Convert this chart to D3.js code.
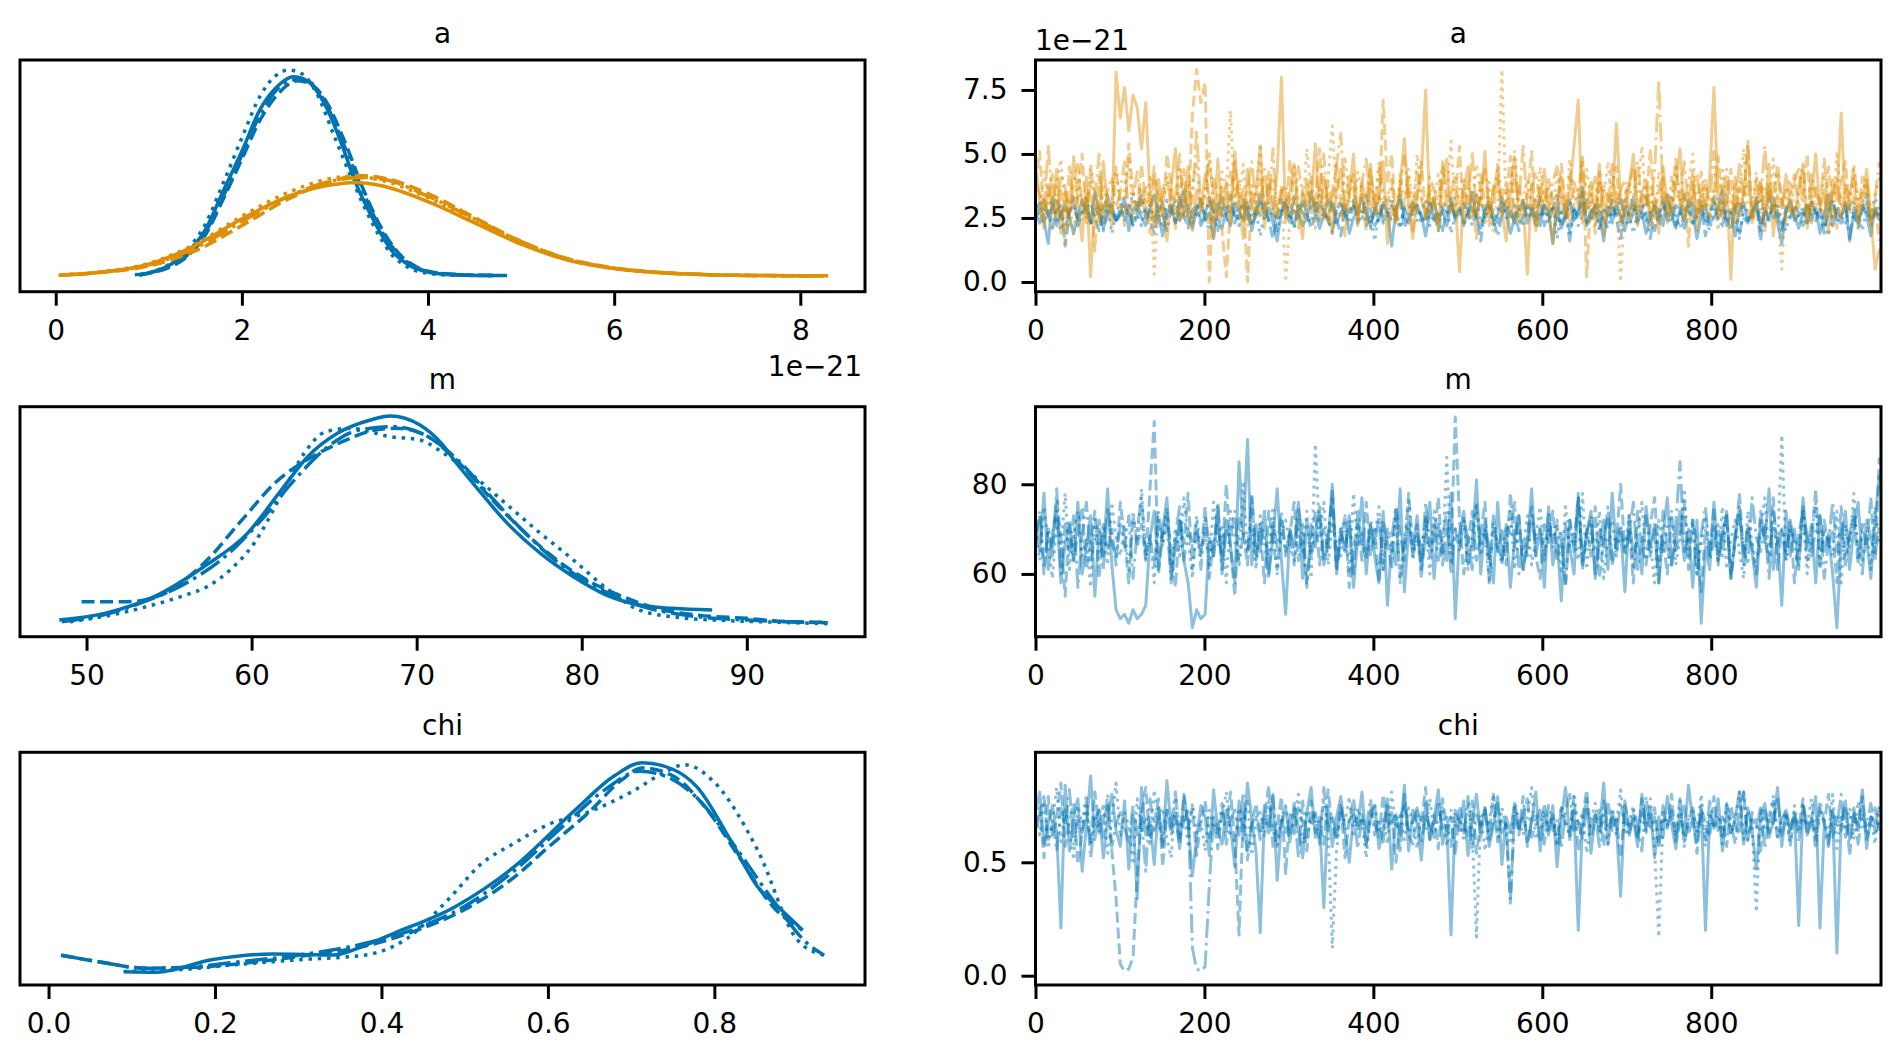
<!DOCTYPE html>
<html>
<head>
<meta charset="utf-8">
<script src="https://cdn.jsdelivr.net/npm/d3@7/dist/d3.min.js"></script>
<style>
body { margin: 0; background: #fff; }
svg text { font-family: "DejaVu Sans", sans-serif; font-size: 28px; fill: #000; }
</style>
</head>
<body>
<svg id="chart" width="1900" height="1058"></svg>
<script>
// ---- posterior densities (x in data units, y = density) ----
var kdeA0X = [[0.85,1.0,1.2,1.4,1.6,1.8,2.0,2.2,2.4,2.55,2.7,2.9,3.1,3.2,3.4,3.6,3.8,4.0,4.2,4.4,4.7],
              [0.9,1.0,1.2,1.4,1.6,1.8,2.0,2.2,2.4,2.6,2.75,2.9,3.1,3.3,3.5,3.7,3.9,4.1,4.4,4.85],
              [0.9,1.0,1.2,1.4,1.6,1.8,2.0,2.2,2.35,2.5,2.65,2.8,3.0,3.2,3.4,3.6,3.8,4.0,4.3,4.75],
              [0.9,1.0,1.2,1.4,1.6,1.8,2.0,2.2,2.4,2.6,2.75,2.9,3.1,3.3,3.5,3.7,3.9,4.1,4.4,4.8]];
var kdeA0Y = [[0.005,0.012,0.037,0.085,0.17,0.32,0.47,0.63,0.72,0.75,0.735,0.64,0.47,0.37,0.22,0.10,0.04,0.015,0.006,0.003,0.002],
              [0.004,0.01,0.03,0.07,0.15,0.29,0.44,0.59,0.69,0.735,0.72,0.66,0.51,0.33,0.18,0.08,0.03,0.012,0.004,0.002],
              [0.004,0.012,0.04,0.095,0.19,0.35,0.52,0.68,0.75,0.775,0.76,0.69,0.52,0.35,0.20,0.085,0.03,0.01,0.003,0.002],
              [0.005,0.011,0.033,0.075,0.16,0.30,0.455,0.61,0.71,0.74,0.725,0.65,0.49,0.32,0.17,0.075,0.028,0.01,0.004,0.002]];
var kdeA1X = [[0.03,0.5,1.0,1.5,2.0,2.5,3.0,3.2,3.5,4.0,4.5,5.0,5.5,6.0,6.5,7.0,7.5,8.2],
              [0.05,0.5,1.0,1.5,2.0,2.5,3.0,3.25,3.5,4.0,4.5,5.0,5.5,6.0,6.5,7.0,7.5,8.25],
              [0.05,0.5,1.0,1.5,2.0,2.5,3.0,3.15,3.5,4.0,4.5,5.0,5.5,6.0,6.5,7.0,7.5,8.2],
              [0.1,0.5,1.0,1.5,2.0,2.5,3.0,3.25,3.5,4.0,4.5,5.0,5.5,6.0,6.5,7.0,7.5,8.3]];
var kdeA1Y = [[0.003,0.015,0.045,0.115,0.215,0.30,0.345,0.352,0.34,0.28,0.20,0.12,0.06,0.028,0.012,0.005,0.002,0.0],
              [0.004,0.014,0.038,0.095,0.19,0.29,0.36,0.378,0.37,0.31,0.22,0.13,0.065,0.03,0.013,0.005,0.002,0.0],
              [0.004,0.016,0.048,0.12,0.225,0.315,0.37,0.375,0.36,0.295,0.21,0.125,0.062,0.028,0.012,0.005,0.002,0.001],
              [0.004,0.015,0.042,0.105,0.205,0.30,0.36,0.37,0.365,0.30,0.215,0.13,0.064,0.03,0.013,0.005,0.002,0.001]];
var kdeMX = [[48.35,51.1,54.1,57.1,59.75,61.8,63.4,65.2,67.2,68.4,70.2,71.5,72.5,73.5,75.5,77.5,79.5,81.5,83.5,85.5,87.9],
             [49.7,52.5,54.5,57.0,59.5,61.5,63.5,65.5,67.5,68.8,70.5,72.5,74.5,76.5,78.5,80.5,82.5,84.5,87,90,92.5,94.9],
             [49.0,51.5,54.0,56.0,57.3,58.8,60.15,61.7,63.2,64.5,66.0,68.4,70.2,71.5,73.5,75.5,77.5,79.5,81.5,83.5,86,89,92,94.9],
             [48.5,51.0,53.5,56.0,58.5,60.5,62.5,64.5,66.5,68.6,70.5,72.5,74.5,76.5,78.5,80.5,82.5,84.5,87,90,92.5,94.9]];
var kdeMY = [[0.0015,0.0035,0.0085,0.0175,0.0275,0.0405,0.0505,0.0575,0.0615,0.0627,0.060,0.0545,0.048,0.042,0.0305,0.0215,0.0145,0.009,0.006,0.005,0.0045],
             [0.007,0.007,0.009,0.018,0.032,0.043,0.050,0.055,0.0585,0.059,0.057,0.049,0.038,0.028,0.0195,0.013,0.0085,0.005,0.003,0.002,0.001,0.0008],
             [0.001,0.003,0.006,0.009,0.0115,0.017,0.0245,0.038,0.0516,0.058,0.059,0.0565,0.0555,0.052,0.0445,0.036,0.0275,0.0195,0.011,0.0045,0.0022,0.0013,0.0008,0.0004],
             [0.001,0.003,0.007,0.0125,0.021,0.031,0.043,0.053,0.0585,0.0595,0.057,0.0495,0.0385,0.028,0.019,0.0125,0.0075,0.0045,0.0025,0.0015,0.001,0.0007]];
var kdeChiX = [[0.091,0.13,0.196,0.269,0.342,0.38,0.415,0.488,0.56,0.633,0.68,0.713,0.75,0.779,0.82,0.852,0.88,0.906],
               [0.015,0.06,0.117,0.17,0.23,0.30,0.37,0.44,0.5,0.56,0.6,0.65,0.69,0.713,0.75,0.79,0.83,0.87,0.906],
               [0.09,0.15,0.22,0.3,0.379,0.43,0.48,0.52,0.56,0.6,0.65,0.7,0.74,0.764,0.8,0.852,0.9,0.932],
               [0.015,0.06,0.117,0.17,0.23,0.30,0.37,0.44,0.5,0.56,0.62,0.67,0.71,0.74,0.78,0.82,0.87,0.91,0.932]];
var kdeChiY = [[0.097,0.09,0.28,0.368,0.353,0.5,0.685,1.09,1.71,2.58,3.1,3.30,3.2,2.93,2.1,1.40,1.05,0.736],
               [0.35,0.25,0.15,0.16,0.22,0.33,0.46,0.72,1.05,1.55,2.0,2.55,3.05,3.22,3.1,2.6,1.85,1.1,0.73],
               [0.1,0.12,0.2,0.28,0.35,0.6,1.2,1.75,2.07,2.35,2.55,2.85,3.15,3.27,3.0,1.96,0.58,0.35],
               [0.35,0.25,0.15,0.17,0.25,0.35,0.5,0.75,1.1,1.65,2.35,2.9,3.17,3.1,2.75,2.1,1.2,0.55,0.35]];

// ---- chains, thinned draws (200 of 1000 iterations per chain) ----
var traceA0 = [
 [2.8,3.1,2.4,1.5,3.3,2.2,2.7,3.0,2.5,1.9,2.6,3.2,2.8,2.3,3.5,2.9,2.1,2.6,3.0,2.4,
  2.7,3.3,2.0,2.8,3.1,2.5,2.2,2.9,3.4,2.6,1.8,2.7,3.0,2.3,2.9,3.6,2.5,2.1,2.8,3.2,
  2.4,2.7,1.7,2.9,3.3,2.6,2.2,3.0,2.8,2.4,3.1,2.0,2.7,3.4,2.5,2.9,2.3,1.6,2.8,3.1,
  2.6,2.2,3.0,2.7,2.4,3.5,2.8,2.1,2.6,3.2,2.9,2.3,2.7,3.0,1.9,2.5,2.8,3.3,2.6,2.2,
  2.9,2.4,3.1,2.7,1.4,2.8,3.4,2.5,2.3,2.9,3.0,2.6,1.8,2.7,3.2,2.4,2.8,2.2,3.1,2.6,
  2.9,2.3,2.7,3.5,2.5,2.1,2.8,3.0,2.4,2.6,3.3,2.7,1.9,2.5,2.9,3.1,2.3,2.8,2.6,2.2,
  3.0,2.7,1.5,2.9,2.1,2.6,3.2,2.4,2.8,3.7,2.2,2.5,3.0,2.7,1.6,2.9,2.3,3.1,2.6,2.0,
  2.8,3.3,2.4,2.7,1.9,2.5,3.0,2.8,2.2,3.4,2.6,2.1,2.9,2.4,3.2,2.7,1.7,2.6,3.0,2.3,
  2.5,2.9,3.6,2.2,2.7,1.8,2.8,3.1,2.4,2.6,3.3,2.0,2.9,2.5,3.0,2.3,1.5,2.8,3.2,2.6,
  2.1,2.7,3.0,2.4,2.9,1.9,2.6,3.4,2.2,2.8,2.5,3.1,1.6,2.7,2.3,3.0,2.6,1.8,2.9,2.4],
 [2.5,2.9,3.2,2.6,2.1,2.8,3.0,1.4,2.7,3.3,2.2,2.6,2.9,3.1,2.5,2.0,2.8,3.4,2.7,2.3,
  2.9,2.5,3.0,2.2,2.6,3.2,2.8,2.4,1.9,2.7,3.1,2.5,2.9,2.3,3.3,2.6,2.1,2.8,3.0,2.4,
  2.7,3.2,2.5,2.0,2.9,2.6,3.4,2.3,2.8,3.0,2.5,2.2,2.7,3.1,2.9,2.4,1.7,2.6,3.2,2.8,
  2.3,2.9,2.5,3.3,2.7,2.1,2.6,3.0,2.8,2.4,3.2,2.5,1.8,2.9,2.7,3.1,2.3,2.6,3.4,2.8,
  2.2,2.5,3.0,2.7,2.4,2.9,3.2,2.1,2.6,2.8,3.0,2.5,2.3,3.1,2.7,2.0,2.9,2.6,3.3,2.4,
  2.8,2.2,2.7,3.0,2.5,1.6,2.8,3.2,2.6,2.3,2.9,3.1,2.4,2.7,2.0,2.6,3.0,2.8,2.5,3.3,
  2.2,2.7,2.9,2.4,2.6,3.1,1.9,2.8,2.5,3.5,2.3,2.7,3.0,2.1,2.8,2.6,3.2,2.4,1.7,2.9,
  2.6,3.0,2.3,2.8,3.3,2.5,2.0,2.7,3.1,2.4,2.9,2.2,2.6,3.4,2.8,2.3,2.5,3.0,1.8,2.7,
  3.1,2.4,2.8,2.6,2.0,2.9,3.2,2.5,2.3,2.7,3.0,1.6,2.8,2.4,3.3,2.6,2.1,2.9,2.5,3.0,
  2.7,2.2,3.1,2.6,2.4,2.9,1.9,2.8,3.2,2.5,2.3,2.7,3.0,2.6,2.1,2.8,3.4,2.4,2.7,2.5],
 [3.0,2.6,2.3,2.8,3.2,2.5,2.0,2.9,2.7,3.1,2.4,2.8,3.3,2.2,2.6,3.0,2.5,2.9,1.9,2.7,
  3.1,2.4,2.8,3.5,2.6,2.2,2.9,3.0,2.5,2.7,2.1,3.2,2.8,2.4,2.6,3.0,2.9,2.3,2.7,3.3,
  2.5,2.0,2.8,3.1,2.6,2.4,2.9,3.2,2.2,2.7,3.0,2.5,2.8,1.8,2.6,3.1,2.9,2.4,2.7,3.3,
  2.5,2.1,2.8,3.0,2.6,2.3,2.9,3.4,2.7,2.4,2.0,2.8,3.1,2.5,2.7,3.2,2.4,2.9,2.2,2.6,
  1.6,2.8,2.3,2.7,3.3,2.5,2.1,2.9,3.0,2.6,2.4,2.8,3.2,2.2,2.7,2.5,3.1,2.9,1.9,2.6,
  2.8,3.0,2.4,2.7,3.4,2.3,2.6,2.9,2.1,2.8,3.1,2.5,2.7,3.0,2.4,2.2,2.9,2.6,3.2,2.5,
  2.8,2.3,3.0,1.7,2.7,2.5,3.1,2.8,2.2,2.6,3.3,2.4,2.9,2.0,2.7,3.0,2.5,2.8,2.3,3.2,
  2.6,1.9,2.8,3.1,2.4,2.7,3.0,2.2,2.9,2.5,3.4,2.6,2.1,2.8,3.0,2.3,2.7,3.2,2.5,2.0,
  2.9,2.6,3.1,2.3,2.8,2.5,1.7,3.0,2.7,2.4,2.9,3.3,2.2,2.6,2.8,3.1,2.4,2.0,2.7,3.0,
  2.5,2.8,2.2,3.2,2.6,2.9,2.4,1.8,2.7,3.0,2.5,2.3,2.9,3.1,2.6,2.0,2.8,2.4,3.3,2.7],
 [2.7,2.3,3.0,2.6,2.9,3.3,2.4,2.1,2.8,3.0,2.5,2.7,3.2,2.3,2.9,2.6,2.0,3.1,2.8,2.4,
  2.6,3.0,2.7,2.2,2.9,3.4,2.5,2.8,2.3,3.1,2.6,2.0,2.8,3.2,2.4,2.7,3.0,2.5,2.9,2.2,
  2.6,3.3,2.8,2.4,2.1,2.9,3.0,2.6,2.5,3.2,2.7,2.3,2.9,2.6,3.1,2.4,2.8,2.0,2.7,3.0,
  2.5,3.3,2.8,2.2,2.6,2.9,3.1,2.4,2.7,2.5,1.9,2.8,3.2,2.6,2.3,3.0,2.7,2.5,2.9,2.1,
  2.8,3.3,2.4,2.6,3.0,2.7,2.2,2.9,2.5,3.1,2.8,2.3,2.6,3.2,2.4,2.7,2.0,2.9,3.0,2.5,
  2.6,3.1,2.8,2.2,2.7,3.3,2.5,2.9,2.4,1.8,2.6,3.0,2.8,2.3,2.7,3.2,2.5,2.9,2.1,2.6,
  3.0,2.4,2.8,3.5,2.2,2.7,1.6,2.9,2.5,3.1,2.3,2.8,2.6,3.0,2.4,2.1,2.9,2.7,3.3,2.5,
  2.2,2.8,3.0,2.5,2.7,1.7,2.9,2.4,3.2,2.6,2.3,3.0,2.8,2.1,2.6,3.1,2.5,2.9,2.4,2.7,
  3.3,2.5,2.2,2.9,2.6,3.0,1.9,2.7,2.4,2.8,3.1,2.3,2.6,3.4,2.5,2.8,2.0,2.7,3.0,2.4,
  2.6,2.9,2.3,3.1,2.7,2.5,2.1,2.8,3.2,2.4,2.6,3.0,1.7,2.9,2.5,2.7,3.1,2.2,2.8,2.6]
];
var traceA1 = [
 [4.6,3.2,2.1,3.8,2.7,4.4,1.9,3.5,2.6,4.9,3.0,1.6,4.1,0.2,3.3,2.5,4.7,3.0,2.2,8.2,
  6.4,7.6,5.9,7.3,6.8,5.2,7.0,3.4,2.2,4.0,2.9,1.6,3.7,5.2,2.4,3.1,4.5,2.0,3.6,2.8,
  4.2,3.3,1.8,4.8,2.6,3.9,2.3,5.1,3.0,1.7,4.4,2.8,3.5,5.3,2.1,3.8,2.6,4.3,8.0,2.3,
  3.5,4.6,2.7,1.7,3.8,3.0,5.4,2.5,4.1,3.2,1.9,3.6,4.4,2.8,3.3,5.0,2.2,3.9,3.1,4.6,
  2.6,3.4,4.7,1.5,3.0,2.4,3.8,5.6,2.9,1.7,3.5,4.2,7.5,2.6,3.3,2.0,3.9,4.8,2.7,3.2,
  0.4,3.6,4.5,2.5,3.4,3.0,5.1,2.2,3.7,4.0,2.8,1.6,3.5,4.9,2.4,3.1,0.3,3.8,2.0,3.3,
  4.4,2.9,1.5,3.2,4.1,2.6,3.5,5.3,7.1,2.3,3.0,3.9,2.7,4.6,1.8,3.4,2.9,6.2,3.1,2.5,
  3.7,5.0,2.8,3.5,4.0,2.2,3.3,1.9,4.5,3.0,2.6,3.8,5.2,2.4,3.1,4.3,2.0,3.6,2.8,4.1,
  7.6,3.2,2.5,3.9,0.1,4.1,2.6,3.5,5.3,2.3,3.0,3.9,2.7,4.6,1.8,3.4,2.9,4.2,3.1,2.5,
  3.7,4.5,2.1,3.3,5.0,2.8,3.6,1.9,4.0,3.2,6.6,2.8,3.5,4.0,2.2,3.1,4.4,2.6,0.5,1.3],
 [3.8,5.1,2.4,3.3,4.2,2.8,3.6,1.5,4.5,2.9,3.2,5.0,2.3,3.9,1.2,4.1,2.7,3.0,2.6,4.4,
  3.1,2.2,5.4,3.5,2.7,4.6,3.0,1.9,4.2,3.4,2.5,5.0,3.8,2.1,3.3,4.4,2.6,6.5,8.3,7.0,
  7.8,0.0,4.1,3.3,2.0,0.2,3.0,4.7,2.9,3.6,0.0,3.5,2.4,4.0,2.9,4.3,3.1,2.6,3.7,2.5,
  4.8,3.0,2.1,3.6,4.0,2.7,3.3,5.2,2.4,3.9,2.8,4.6,3.1,1.8,3.5,4.2,2.6,3.4,2.0,4.4,
  3.0,2.7,7.1,3.8,5.0,2.3,3.6,2.9,4.1,1.9,3.2,4.7,2.5,3.5,3.0,2.2,4.5,3.7,2.8,3.3,
  5.3,2.4,3.9,3.1,1.7,4.2,3.0,2.6,3.6,4.4,2.6,3.2,4.9,2.3,3.8,2.9,3.4,5.1,2.1,3.7,
  2.7,4.0,3.2,2.5,4.6,3.0,2.4,3.9,3.3,5.0,0.2,3.5,1.9,4.3,3.1,2.6,3.8,4.5,2.2,3.4,
  3.8,4.5,2.2,3.4,3.0,5.2,2.7,3.6,4.1,2.3,3.2,4.8,2.9,3.5,1.4,3.9,2.6,4.3,3.0,2.5,
  3.6,4.9,2.8,3.1,4.4,2.2,3.7,3.0,5.5,2.5,3.3,4.0,2.0,3.8,2.7,4.6,3.2,2.4,3.5,4.2,
  2.9,3.4,5.0,2.3,3.7,3.1,2.6,4.5,3.0,2.1,3.9,4.7,2.8,3.3,2.5,4.1,3.6,2.2,3.0,1.6],
 [3.1,2.6,4.3,3.5,2.0,3.9,4.8,2.7,3.3,1.8,4.1,3.0,2.5,4.6,3.4,2.2,3.8,2.9,3.2,4.5,
  2.8,3.6,4.9,2.3,3.0,3.7,2.4,4.2,0.3,3.3,2.9,4.0,3.5,2.6,4.4,3.1,2.2,3.8,4.7,2.7,
  3.4,5.1,3.0,2.5,4.3,3.6,6.7,2.9,3.3,4.6,2.2,3.9,3.1,5.4,2.6,3.5,4.1,2.8,3.7,0.0,
  2.4,4.5,3.2,2.9,5.2,3.6,2.1,3.8,2.7,4.0,6.1,3.3,2.5,4.9,3.1,2.8,4.3,3.5,2.3,3.9,
  3.0,4.7,2.6,3.4,3.7,2.4,4.2,3.2,4.4,2.8,5.0,3.5,2.4,3.8,3.1,4.2,2.9,3.3,5.5,2.7,
  3.6,4.1,2.5,3.0,4.6,3.4,2.2,3.9,2.0,3.2,8.3,2.9,3.7,5.1,2.6,3.3,4.0,3.0,2.4,4.5,
  3.1,3.8,2.7,4.2,3.4,2.3,4.8,3.0,3.6,2.5,4.4,3.2,2.1,3.9,3.3,4.7,2.8,3.5,0.0,3.1,
  4.0,2.6,3.4,5.3,2.9,3.7,2.2,4.3,3.0,3.5,2.7,4.6,3.2,2.4,3.8,5.0,2.8,3.3,4.1,2.5,
  3.6,2.0,4.5,3.1,2.8,3.9,3.4,5.2,2.6,3.0,4.3,2.3,3.7,3.2,4.8,2.9,0.5,3.5,4.0,2.7,
  3.3,4.6,2.4,3.8,3.1,2.8,4.2,3.5,2.2,5.1,3.0,3.6,2.6,4.4,3.2,2.9,3.9,2.5,3.4,4.1],
 [4.0,3.4,2.8,5.3,3.1,2.5,4.2,3.7,2.2,3.9,4.6,3.0,2.7,4.4,3.3,5.0,2.4,3.6,4.1,2.9,
  3.5,4.7,2.6,3.2,4.3,2.7,3.8,3.0,4.5,2.3,3.6,4.1,2.9,3.4,5.0,2.5,3.9,3.1,5.9,2.8,
  3.5,4.8,3.2,2.6,3.7,2.9,4.3,3.3,4.0,2.4,3.6,4.7,3.0,2.7,4.4,3.2,5.2,2.5,3.5,3.8,
  3.1,2.6,4.5,3.4,3.0,4.1,2.8,3.7,5.0,2.3,3.5,4.6,5.8,2.9,4.2,3.6,2.4,3.9,4.8,3.1,
  2.7,4.4,3.5,3.0,4.0,2.5,3.7,4.9,3.3,2.8,4.3,3.2,2.6,4.1,3.6,3.0,4.7,2.9,3.4,4.2,
  2.7,3.8,3.1,5.1,2.6,3.5,4.4,3.0,2.8,4.6,3.3,3.9,2.5,4.0,3.2,5.3,2.9,3.7,4.3,3.0,
  3.6,2.7,3.9,4.5,3.1,2.6,4.2,3.5,3.0,4.8,2.8,3.4,4.1,2.5,3.8,3.2,4.6,2.9,3.6,4.0,
  2.4,3.3,4.7,3.0,3.7,2.8,4.3,7.9,3.2,2.6,4.1,3.6,3.0,4.7,2.9,3.4,4.2,2.7,3.8,3.1,
  5.1,2.6,3.5,4.4,3.0,2.8,4.6,3.3,3.9,2.5,4.0,3.2,5.3,2.9,3.7,4.3,3.0,3.6,2.7,3.9,
  4.5,3.1,2.6,4.2,3.5,3.0,4.8,2.8,3.4,4.1,2.5,3.8,3.2,4.6,2.9,3.6,4.0,2.4,3.3,4.7]
];
var traceM = [
 [72,65,78,61,69,74,58,67,71,63,76,60,66,73,55,70,64,79,62,52,
  50,51,49,52,50,51,53,68,74,61,70,77,59,66,72,63,58,48,52,50,
  51,68,64,75,61,72,66,58,85,69,90,62,71,65,74,60,68,79,63,51,
  70,66,76,59,72,64,69,75,62,67,80,61,70,65,73,57,68,77,60,71,
  64,58,74,53,67,62,79,56,70,65,73,61,68,76,59,71,66,63,78,50,
  69,74,62,67,81,60,72,65,58,76,63,70,57,68,73,61,66,79,64,70,
  57,75,62,68,54,71,66,60,77,63,69,74,59,67,72,61,78,65,70,56,
  73,64,68,60,75,66,71,58,69,77,62,67,74,63,70,57,72,49,66,61,
  76,63,69,73,59,68,75,62,70,65,57,72,67,79,61,68,53,74,64,70,
  62,77,66,71,58,73,65,69,60,48,67,74,61,70,76,63,68,59,72,82],
 [66,73,60,70,64,77,68,55,72,63,69,75,61,67,74,59,71,65,70,62,
  76,68,58,73,66,71,63,79,94,60,69,74,65,57,72,67,78,61,70,64,
  75,59,68,71,63,80,66,55,73,69,62,77,64,70,58,74,67,61,72,65,
  69,76,63,71,58,67,74,62,70,65,79,60,68,73,57,66,71,63,76,64,
  70,58,72,67,61,75,69,63,78,66,71,59,73,64,68,77,62,70,65,95,
  72,60,67,74,63,69,76,58,71,65,70,62,78,66,73,61,68,75,64,59,
  71,67,74,63,69,57,72,66,78,61,70,64,75,59,68,73,62,67,80,65,
  70,58,74,66,62,71,77,63,68,60,73,65,69,76,61,72,67,56,70,64,
  75,62,69,73,59,67,78,64,71,66,60,74,68,63,77,61,70,65,72,58,
  69,74,63,67,79,61,72,66,70,58,75,64,68,73,62,71,66,77,63,86],
 [70,63,75,67,59,72,66,78,61,69,74,64,68,57,73,65,71,62,76,68,
  64,71,60,74,67,79,63,69,58,72,66,75,61,70,64,77,68,59,73,65,
  69,62,76,66,71,58,74,67,63,80,65,70,61,73,68,64,75,60,69,72,
  66,63,70,65,74,59,89,68,76,62,71,67,64,73,60,78,66,69,63,72,
  68,75,61,70,65,73,58,67,77,63,69,66,72,60,74,68,64,86,62,70,
  67,73,61,69,76,64,70,58,72,66,63,68,74,61,70,65,73,62,68,75,
  64,70,67,72,60,75,66,69,63,78,61,71,65,74,59,68,72,64,70,66,
  73,61,69,76,63,67,58,72,65,70,74,62,68,79,64,71,60,67,73,66,
  70,63,75,61,68,72,65,59,74,67,62,69,77,64,71,66,91,63,70,68,
  65,73,60,69,76,62,70,67,64,74,58,71,66,78,63,69,72,61,75,67],
 [68,74,62,70,66,79,60,71,65,73,57,69,76,63,68,72,61,75,67,64,
  71,66,73,59,70,77,64,68,62,74,67,71,58,69,75,63,70,66,72,61,
  73,67,64,76,60,70,68,74,62,69,65,78,63,71,67,59,72,66,74,64,
  70,62,75,68,57,71,66,73,63,69,77,61,70,65,72,60,74,67,64,71,
  66,73,61,70,68,75,59,67,72,64,69,62,76,66,71,63,68,74,60,70,
  65,72,68,61,75,67,70,63,73,66,62,71,69,76,60,68,64,73,67,70,
  63,74,66,71,68,58,72,65,77,62,69,73,60,70,66,75,63,68,71,64,
  69,76,61,67,73,64,70,58,74,66,62,71,85,65,68,72,60,69,75,63,
  67,71,64,74,60,69,73,66,62,77,68,65,71,59,74,67,70,63,72,66,
  61,75,68,64,70,73,59,67,76,65,71,62,69,74,66,60,72,68,64,71]
];
var traceChi = [
 [.72,.81,.58,.67,.75,.63,.21,.84,.55,.70,.78,.46,.66,.88,.60,.73,.52,.69,.80,.64,
  .57,.77,.47,.71,.34,.83,.62,.68,.49,.74,.59,.86,.65,.72,.56,.79,.67,.44,.61,.75,
  .70,.53,.82,.64,.58,.73,.66,.48,.77,.60,.85,.69,.55,.19,.71,.63,.80,.42,.67,.74,
  .59,.76,.65,.52,.72,.83,.61,.68,.30,.74,.57,.70,.79,.63,.50,.71,.66,.81,.58,.69,
  .75,.56,.64,.78,.47,.70,.62,.84,.55,.73,.67,.51,.76,.60,.69,.82,.58,.66,.18,.71,
  .64,.77,.53,.68,.80,.61,.74,.57,.66,.79,.49,.70,.63,.76,.65,.72,.59,.68,.81,.55,
  .70,.62,.75,.48,.69,.83,.60,.73,.20,.67,.78,.54,.71,.64,.85,.58,.72,.66,.35,.77,
  .63,.69,.57,.80,.65,.74,.52,.70,.61,.79,.67,.56,.73,.62,.84,.68,.59,.75,.20,.71,
  .66,.78,.55,.72,.63,.69,.81,.58,.74,.64,.47,.70,.76,.61,.68,.83,.57,.73,.65,.71,
  .22,.75,.62,.69,.79,.21,.66,.58,.73,.10,.68,.77,.60,.71,.64,.82,.56,.70,.67,.74],
 [.66,.74,.52,.79,.61,.70,.85,.57,.68,.76,.49,.63,.72,.59,.81,.64,.69,.75,.55,.34,
  .05,.02,.03,.08,.45,.71,.83,.60,.67,.78,.48,.73,.62,.70,.58,.80,.65,.74,.53,.68,
  .77,.61,.69,.56,.73,.64,.81,.59,.18,.72,.51,.67,.76,.63,.70,.84,.57,.66,.79,.45,
  .71,.62,.74,.68,.55,.77,.63,.70,.58,.82,.66,.60,.75,.52,.69,.78,.64,.71,.57,.73,
  .67,.61,.80,.65,.72,.50,.69,.76,.62,.58,.74,.67,.83,.60,.71,.56,.78,.64,.70,.53,
  .75,.66,.61,.77,.54,.68,.73,.63,.80,.59,.70,.66,.32,.74,.62,.79,.57,.69,.72,.60,
  .76,.65,.71,.58,.74,.67,.63,.79,.55,.70,.82,.61,.68,.73,.57,.77,.64,.69,.52,.75,
  .66,.71,.60,.78,.63,.69,.74,.56,.72,.65,.80,.59,.67,.76,.62,.70,.54,.73,.68,.61,
  .79,.64,.70,.57,.75,.66,.62,.81,.59,.72,.68,.55,.74,.63,.77,.60,.69,.73,.58,.71,
  .65,.78,.62,.69,.56,.74,.67,.80,.61,.70,.64,.75,.53,.72,.66,.79,.60,.68,.74,.63],
 [.70,.62,.77,.56,.68,.83,.59,.73,.64,.51,.75,.67,.80,.58,.71,.63,.76,.54,.69,.85,
  .61,.72,.66,.49,.78,.64,.70,.57,.82,.68,.74,.60,.52,.79,.65,.71,.58,.76,.63,.69,
  .55,.73,.67,.62,.70,.81,.62,.59,.74,.66,.78,.53,.68,.72,.61,.77,.64,.57,.70,.75,
  .62,.69,.80,.58,.73,.66,.71,.60,.77,.64,.12,.55,.72,.68,.79,.61,.74,.67,.52,.70,
  .76,.63,.69,.58,.81,.65,.72,.60,.74,.67,.56,.71,.64,.78,.62,.69,.75,.57,.73,.66,
  .70,.59,.77,.63,.17,.72,.55,.68,.80,.61,.74,.65,.58,.76,.69,.62,.71,.83,.60,.67,
  .73,.64,.70,.57,.75,.68,.61,.79,.66,.72,.54,.69,.76,.63,.71,.58,.74,.67,.82,.62,
  .68,.75,.60,.71,.64,.78,.56,.17,.70,.66,.73,.61,.77,.59,.69,.74,.63,.80,.57,.72,
  .65,.71,.58,.76,.62,.69,.81,.60,.73,.67,.28,.74,.64,.70,.79,.61,.68,.72,.57,.75,
  .63,.70,.66,.78,.59,.73,.68,.62,.80,.56,.71,.65,.74,.60,.77,.67,.63,.70,.58,.75],
 [.64,.71,.79,.60,.68,.55,.74,.66,.82,.58,.70,.63,.77,.52,.69,.73,.61,.80,.57,.67,
  .72,.65,.59,.75,.62,.70,.46,.78,.64,.69,.57,.73,.66,.81,.60,.68,.74,.12,.03,.02,
  .04,.40,.70,.64,.76,.58,.69,.73,.62,.81,.55,.67,.71,.60,.75,.66,.79,.57,.70,.63,
  .68,.74,.52,.77,.61,.69,.72,.58,.83,.65,.71,.60,.76,.64,.68,.73,.56,.70,.65,.78,
  .62,.69,.59,.75,.67,.71,.54,.80,.63,.68,.74,.58,.72,.66,.61,.77,.64,.70,.57,.73,
  .68,.62,.79,.55,.71,.66,.74,.60,.69,.76,.63,.67,.33,.72,.65,.70,.78,.61,.67,.73,
  .58,.75,.64,.69,.56,.72,.80,.63,.68,.60,.74,.66,.71,.57,.77,.65,.70,.62,.76,.68,
  .61,.73,.67,.55,.79,.64,.70,.59,.75,.66,.72,.62,.78,.57,.69,.74,.63,.71,.60,.77,
  .65,.70,.62,.76,.68,.58,.73,.81,.60,.69,.65,.74,.56,.71,.67,.79,.62,.70,.64,.73,
  .59,.75,.66,.70,.62,.77,.68,.57,.72,.65,.80,.61,.69,.74,.58,.71,.66,.76,.63,.68]
];

var xTicksA = [0, 2, 4, 6, 8];
var xTicksM = [50, 60, 70, 80, 90];
var xTicksChi = [0, 0.2, 0.4, 0.6, 0.8];
var iterTicks = [0, 200, 400, 600, 800];
var yTicksA = [0, 2.5, 5, 7.5];
var yTicksM = [60, 80];
var yTicksChi = [0, 0.5];
var titles = ['a', 'm', 'chi'];

var BLUE = '#0173b2', ORANGE = '#de8f05';
var STYLES = ['solid', 'dashed', 'dotted', 'dashdot'];
var KDE_LW = 3.5, TRACE_LW = 3;

// matplotlib-style dash patterns scaled by line width
function dash(style, lw) {
    if (style === 'dashed') return [3.7 * lw, 1.6 * lw].join(',');
    if (style === 'dotted') return [1 * lw, 1.65 * lw].join(',');
    if (style === 'dashdot') return [6.4 * lw, 1.6 * lw, 1 * lw, 1.6 * lw].join(',');
    return null;
}

var svg = d3.select('#chart');
svg.append('rect').attr('width', 1900).attr('height', 1058).attr('fill', '#fff');

var colX = [[20, 865], [1035.5, 1881]];
var rowY = [[60, 291.7], [406.7, 636.7], [752.3, 985]];
var clipN = 0;

function makePanel(c, r) {
    var x0 = colX[c][0], x1 = colX[c][1], y0 = rowY[r][0], y1 = rowY[r][1];
    var id = 'clip' + (clipN++);
    svg.append('clipPath').attr('id', id).append('rect')
        .attr('x', x0).attr('y', y0).attr('width', x1 - x0).attr('height', y1 - y0);
    var g = svg.append('g').attr('clip-path', 'url(#' + id + ')');
    return { g: g, x0: x0, x1: x1, y0: y0, y1: y1 };
}

function finishPanel(p, xs, xt, xfmt, ys, yt, yfmt, title) {
    var ax = svg.append('g').attr('transform', 'translate(0,' + p.y1 + ')')
        .call(d3.axisBottom(xs).tickValues(xt).tickFormat(d3.format(xfmt)).tickSize(14).tickPadding(14));
    ax.select('.domain').remove();
    ax.selectAll('.tick line').attr('stroke', '#000').attr('stroke-width', 3);
    ax.selectAll('.tick text').attr('font-size', 28).attr('font-family', 'DejaVu Sans');
    if (ys) {
        var ay = svg.append('g').attr('transform', 'translate(' + p.x0 + ',0)')
            .call(d3.axisLeft(ys).tickValues(yt).tickFormat(d3.format(yfmt)).tickSize(14).tickPadding(14));
        ay.select('.domain').remove();
        ay.selectAll('.tick line').attr('stroke', '#000').attr('stroke-width', 3);
        ay.selectAll('.tick text').attr('font-size', 28).attr('font-family', 'DejaVu Sans');
    }
    svg.append('rect').attr('x', p.x0).attr('y', p.y0)
        .attr('width', p.x1 - p.x0).attr('height', p.y1 - p.y0)
        .attr('fill', 'none').attr('stroke', '#000').attr('stroke-width', 3);
    svg.append('text').attr('x', (p.x0 + p.x1) / 2).attr('y', p.y0 - 17.5)
        .attr('text-anchor', 'middle').text(title);
}

function drawKde(p, xs, ys, X, Y, color) {
    X.forEach(function(xv, i) {
        var pts = xv.map(function(v, j) { return [v, Y[i][j]]; });
        var line = d3.line().curve(d3.curveMonotoneX)
            .x(function(d) { return xs(d[0]); })
            .y(function(d) { return ys(d[1]); });
        p.g.append('path').attr('d', line(pts))
            .attr('fill', 'none').attr('stroke', color).attr('stroke-width', KDE_LW)
            .attr('stroke-dasharray', dash(STYLES[i], KDE_LW));
    });
}

function drawTrace(p, xs, ys, chains, color) {
    chains.forEach(function(vals, i) {
        var step = 999 / (vals.length - 1);
        var line = d3.line()
            .x(function(d, j) { return xs(j * step); })
            .y(function(d) { return ys(d); });
        p.g.append('path').attr('d', line(vals))
            .attr('fill', 'none').attr('stroke', color).attr('stroke-width', TRACE_LW)
            .attr('stroke-opacity', 0.45).attr('stroke-linejoin', 'round')
            .attr('stroke-dasharray', dash(STYLES[i], TRACE_LW));
    });
}

// row 0: a
var pA = makePanel(0, 0);
var xA = d3.scaleLinear().domain([-0.384, 8.695]).range([pA.x0, pA.x1]);
var yA = d3.scaleLinear().domain([-0.059, 0.813]).range([pA.y1, pA.y0]);
drawKde(pA, xA, yA, kdeA0X, kdeA0Y, BLUE);
drawKde(pA, xA, yA, kdeA1X, kdeA1Y, ORANGE);
finishPanel(pA, xA, xTicksA, 'd', null, null, null, titles[0]);
svg.append('text').attr('x', 862).attr('y', 376).attr('text-anchor', 'end').text('1e\u221221');

var tA = makePanel(1, 0);
var ixA = d3.scaleLinear().domain([0, 1001]).range([tA.x0, tA.x1]);
var tyA = d3.scaleLinear().domain([-0.38, 8.67]).range([tA.y1, tA.y0]);
drawTrace(tA, ixA, tyA, traceA0, BLUE);
drawTrace(tA, ixA, tyA, traceA1, ORANGE);
finishPanel(tA, ixA, iterTicks, 'd', tyA, yTicksA, '.1f', titles[0]);
svg.append('text').attr('x', 1035).attr('y', 50).text('1e\u221221');

// row 1: m
var pM = makePanel(0, 1);
var xM = d3.scaleLinear().domain([45.97, 97.16]).range([pM.x0, pM.x1]);
var yM = d3.scaleLinear().domain([-0.0035, 0.0655]).range([pM.y1, pM.y0]);
drawKde(pM, xM, yM, kdeMX, kdeMY, BLUE);
finishPanel(pM, xM, xTicksM, 'd', null, null, null, titles[1]);

var tM = makePanel(1, 1);
var ixM = d3.scaleLinear().domain([0, 1001]).range([tM.x0, tM.x1]);
var tyM = d3.scaleLinear().domain([46.0, 97.3]).range([tM.y1, tM.y0]);
drawTrace(tM, ixM, tyM, traceM, BLUE);
finishPanel(tM, ixM, iterTicks, 'd', tyM, yTicksM, 'd', titles[1]);

// row 2: chi
var pC = makePanel(0, 2);
var xC = d3.scaleLinear().domain([-0.0343, 0.981]).range([pC.x0, pC.x1]);
var yC = d3.scaleLinear().domain([-0.107, 3.46]).range([pC.y1, pC.y0]);
drawKde(pC, xC, yC, kdeChiX, kdeChiY, BLUE);
finishPanel(pC, xC, xTicksChi, '.1f', null, null, null, titles[2]);

var tC = makePanel(1, 2);
var ixC = d3.scaleLinear().domain([0, 1001]).range([tC.x0, tC.x1]);
var tyC = d3.scaleLinear().domain([-0.041, 0.985]).range([tC.y1, tC.y0]);
drawTrace(tC, ixC, tyC, traceChi, BLUE);
finishPanel(tC, ixC, iterTicks, 'd', tyC, yTicksChi, '.1f', titles[2]);
</script>
</body>
</html>
